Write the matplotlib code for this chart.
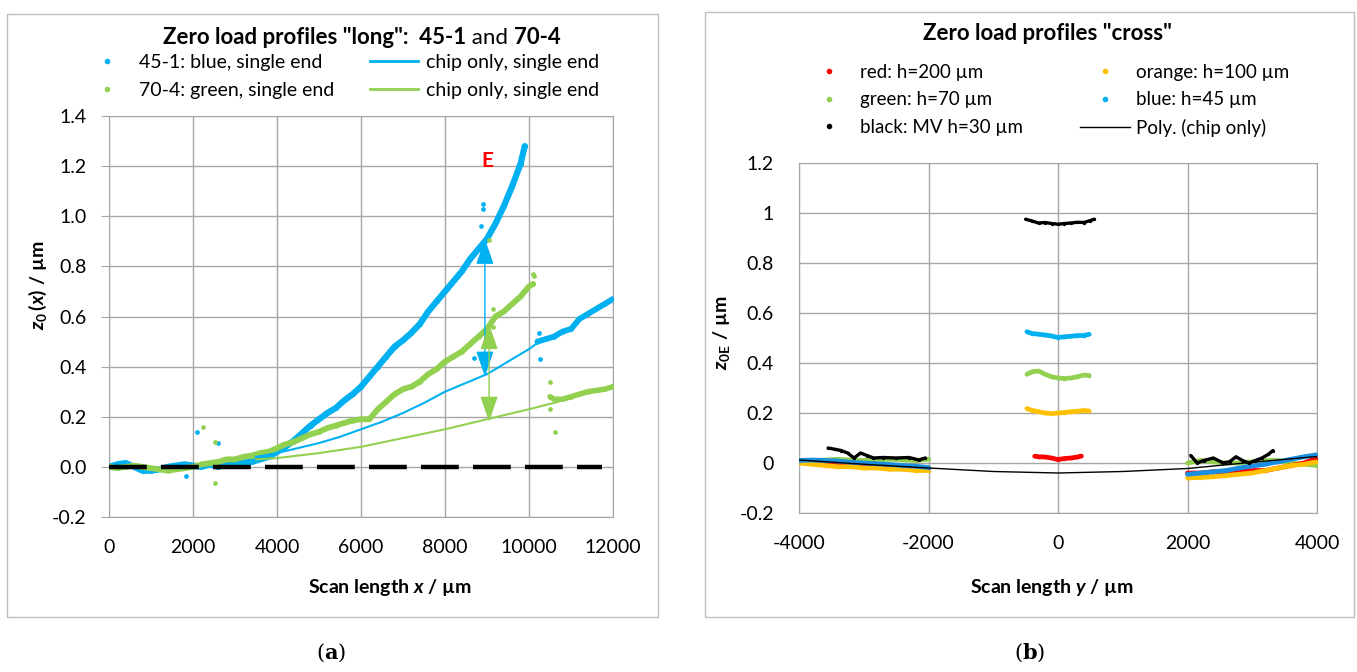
import matplotlib
matplotlib.use('Agg')
from matplotlib import pyplot as plt
from matplotlib.lines import Line2D
from matplotlib.patches import Rectangle

plt.rcParams['font.family'] = ['Lato', 'DejaVu Sans']
plt.rcParams['axes.unicode_minus'] = False
plt.rcParams['mathtext.fontset'] = 'custom'
plt.rcParams['mathtext.rm'] = 'Lato'
plt.rcParams['mathtext.it'] = 'Lato:italic'
plt.rcParams['mathtext.bf'] = 'Lato:bold'
plt.rcParams['mathtext.bfit'] = 'Lato:bold:italic'

BLUE = '#00B0F0'
GREEN = '#92D050'
RED = '#FF0000'
ORANGE = '#FFC000'
GRID = '#a6a6a6'

# ---------- (a) long profiles ----------
x_long = [0, 200, 400, 600, 800, 1000, 1200, 1400, 1600, 1800, 2000, 2200, 2400,
          2600, 2800, 3000, 3200, 3400, 3600, 3800, 4000, 4200, 4400, 4600, 4800,
          5000, 5200, 5400, 5600, 5800, 6000, 6200, 6400, 6600, 6800, 7000, 7200,
          7400, 7600, 7800, 8000, 8200, 8400, 8600, 8800, 9000, 9200, 9400, 9600,
          9800, 9900]
blue_45 = [0.0, 0.01, 0.015, 0.0, -0.015, -0.015, -0.01, 0.0, 0.005, 0.01, 0.005,
           0.0, 0.01, 0.0, 0.015, 0.01, 0.02, 0.02, 0.03, 0.04, 0.06, 0.08, 0.105,
           0.135, 0.165, 0.19, 0.215, 0.235, 0.265, 0.29, 0.32, 0.36, 0.40, 0.44,
           0.48, 0.505, 0.535, 0.57, 0.62, 0.66, 0.70, 0.74, 0.78, 0.83, 0.87, 0.91,
           0.97, 1.04, 1.12, 1.21, 1.28]
x_green = [0, 200, 400, 600, 800, 1000, 1200, 1400, 1600, 1800, 2000, 2200, 2400,
           2600, 2800, 3000, 3200, 3400, 3600, 3800, 4000, 4200, 4400, 4600, 4800,
           5000, 5200, 5400, 5600, 5800, 6000, 6200, 6400, 6600, 6800, 7000, 7200,
           7400, 7600, 7800, 8000, 8200, 8400, 8600, 8800, 9000, 9200, 9400, 9600,
           9800, 10000, 10100]
green_70 = [0.0, -0.005, 0.0, 0.005, 0.0, -0.005, -0.01, -0.015, -0.01, -0.005, 0.0,
            0.01, 0.015, 0.02, 0.03, 0.03, 0.04, 0.045, 0.055, 0.06, 0.075, 0.09,
            0.10, 0.115, 0.13, 0.14, 0.155, 0.165, 0.175, 0.185, 0.19, 0.19, 0.23,
            0.26, 0.29, 0.31, 0.32, 0.34, 0.37, 0.39, 0.42, 0.44, 0.46, 0.49, 0.52,
            0.55, 0.60, 0.62, 0.65, 0.68, 0.72, 0.73]
x_blue_end = [10200, 10400, 10600, 10800, 11000, 11200, 11400, 11600, 11800, 12000]
blue_45_end = [0.50, 0.51, 0.52, 0.54, 0.55, 0.59, 0.61, 0.63, 0.65, 0.67]
x_green_end = [10500, 10600, 10800, 11000, 11200, 11400, 11600, 11800, 12000]
green_70_end = [0.28, 0.27, 0.27, 0.28, 0.29, 0.30, 0.305, 0.31, 0.32]
x_blue_out = [1840, 2090, 2600, 8700, 8860, 8900, 8900, 10250, 10270]
blue_out = [-0.035, 0.14, 0.094, 0.435, 0.96, 1.03, 1.05, 0.535, 0.43]
x_green_out = [2240, 2520, 2520, 9050, 9140, 9140, 10100, 10120, 10490, 10510, 10620]
green_out = [0.158, 0.098, -0.065, 0.905, 0.63, 0.56, 0.77, 0.76, 0.23, 0.34, 0.14]

x_chip_blue = [3500, 4000, 4500, 5000, 5500, 6000, 6500, 7000, 7500, 8000, 8500,
               9000, 9500, 10000, 10250]
chip_blue = [0.04, 0.055, 0.075, 0.095, 0.12, 0.15, 0.18, 0.215, 0.255, 0.30,
             0.335, 0.37, 0.42, 0.47, 0.50]
x_chip_green = [3500, 4000, 5000, 6000, 7000, 8000, 9000, 10000, 10700]
chip_green = [0.03, 0.035, 0.055, 0.08, 0.115, 0.15, 0.19, 0.23, 0.26]

x_zero = [0, 11740]
y_zero = [0, 0]
arrow_blue = (8950, 0.36, 0.91)
arrow_green = (9050, 0.18, 0.57)

# ---------- (b) cross profiles ----------
y_left = [-4000, -3800, -3600, -3400, -3200, -3000, -2800, -2600, -2400, -2200, -2000]
y_right = [2000, 2200, 2400, 2600, 2800, 3000, 3200, 3400, 3600, 3800, 4000]
y_mid = [-480, -400, -300, -200, -100, 0, 100, 200, 300, 400, 480]

red_left = [0.005, 0.0, -0.005, -0.01, -0.01, -0.01, -0.012, -0.015, -0.015, -0.018, -0.02]
red_mid_y = [-360, -300, -200, -100, 0, 100, 200, 300, 360]
red_mid = [0.027, 0.025, 0.024, 0.02, 0.014, 0.018, 0.02, 0.024, 0.028]
red_right = [-0.04, -0.04, -0.035, -0.035, -0.03, -0.03, -0.03, -0.02, -0.01, 0.0, 0.02]

orange_left = [0.0, -0.005, -0.01, -0.015, -0.015, -0.02, -0.02, -0.025, -0.025, -0.03, -0.03]
orange_mid = [0.218, 0.21, 0.205, 0.2, 0.198, 0.2, 0.202, 0.205, 0.207, 0.21, 0.208]
orange_right = [-0.06, -0.058, -0.055, -0.05, -0.045, -0.04, -0.03, -0.02, -0.01, -0.005, 0.005]

green_left = [0.01, 0.01, 0.012, 0.015, 0.012, 0.01, 0.012, 0.015, 0.012, 0.01, 0.015]
green_mid = [0.355, 0.365, 0.368, 0.355, 0.345, 0.34, 0.338, 0.34, 0.345, 0.352, 0.35]
green_right = [0.0, 0.01, 0.005, 0.0, 0.0, 0.005, 0.01, 0.01, 0.0, -0.005, -0.01]

blue_left = [0.01, 0.012, 0.01, 0.008, 0.003, 0.0, -0.003, -0.006, -0.01, -0.013, -0.018]
blue_mid = [0.525, 0.518, 0.515, 0.512, 0.508, 0.502, 0.505, 0.507, 0.51, 0.51, 0.515]
blue_right = [-0.045, -0.04, -0.035, -0.03, -0.02, -0.012, -0.005, 0.005, 0.015, 0.025, 0.033]

black_left_y = [-3550, -3450, -3350, -3250, -3150, -3050, -2950, -2850, -2700, -2500,
                -2300, -2150, -2050]
black_left = [0.06, 0.055, 0.05, 0.04, 0.02, 0.04, 0.03, 0.02, 0.022, 0.02, 0.022,
              0.012, 0.02]
black_mid_y = [-500, -400, -300, -200, -100, 0, 100, 200, 300, 400, 500, 560]
black_mid = [0.975, 0.968, 0.96, 0.962, 0.958, 0.955, 0.958, 0.96, 0.963, 0.962,
             0.97, 0.975]
black_right_y = [2050, 2150, 2250, 2400, 2550, 2650, 2750, 2850, 2950, 3050, 3150,
                 3250, 3320]
black_right = [0.03, 0.0, 0.01, 0.02, 0.0, 0.005, 0.025, 0.01, 0.0, 0.01, 0.02,
               0.035, 0.05]

poly_y = [-4000, -3000, -2000, -1000, 0, 1000, 2000, 3000, 4000]
poly_z = [0.012, -0.005, -0.02, -0.034, -0.04, -0.034, -0.022, 0.003, 0.026]

W, H = 1357, 672
fig = plt.figure(figsize=(W / 100, H / 100), dpi=100)


def fx(px):
    return px / W


def fy(py):
    return 1 - py / H


# panel frames
for x0, y0, x1, y1 in [(7, 14, 658, 617), (705, 12, 1354, 617)]:
    fig.patches.append(Rectangle((fx(x0), fy(y1)), fx(x1 - x0), (y1 - y0) / H,
                                 transform=fig.transFigure, fill=False,
                                 edgecolor='#bfbfbf', lw=1))

ax1 = fig.add_axes([fx(109), fy(517), fx(504), 401 / H])
ax2 = fig.add_axes([fx(799), fy(513), fx(518), 350 / H])


def scatter_band(ax, x, y, color, lw=3.5, ms=2.6, z=3):
    ax.plot(x, y, '-', color=color, lw=lw, solid_capstyle='round', zorder=z)
    ax.plot(x, y, 'o', color=color, ms=ms, mew=0, zorder=z)


# --- panel a
ax1.plot(x_zero, y_zero, color='black', lw=3.2, dashes=(8.5, 3.2), zorder=3.5)
scatter_band(ax1, x_long, blue_45, BLUE, lw=4.5, ms=3.5)
scatter_band(ax1, x_blue_end, blue_45_end, BLUE, lw=4.2, ms=3.2)
scatter_band(ax1, x_green, green_70, GREEN, lw=4.2, ms=3.2)
scatter_band(ax1, x_green_end, green_70_end, GREEN, lw=4.0, ms=3.2)
ax1.plot(x_blue_out, blue_out, 'o', color=BLUE, ms=3.4, mew=0, zorder=3)
ax1.plot(x_green_out, green_out, 'o', color=GREEN, ms=3.4, mew=0, zorder=3)
ax1.plot(x_chip_blue, chip_blue, color=BLUE, lw=1.5, zorder=4)
ax1.plot(x_chip_green, chip_green, color=GREEN, lw=1.5, zorder=4)

for (ax_x, lo, hi), c in [(arrow_blue, BLUE), (arrow_green, GREEN)]:
    ax1.annotate('', xy=(ax_x, hi), xytext=(ax_x, lo),
                 arrowprops=dict(arrowstyle='<|-|>,head_length=1.6,head_width=0.55',
                                 color=c, lw=1, mutation_scale=10,
                                 shrinkA=0, shrinkB=0), zorder=5)
ax1.text(9000, 1.22, 'E', color=RED, fontsize=15, fontweight='bold',
         ha='center', va='center')

ax1.set_xlim(0, 12000)
ax1.set_ylim(-0.2, 1.4)
ax1.set_xticks(range(0, 12001, 2000))
ax1.set_yticks([-0.2, 0.0, 0.2, 0.4, 0.6, 0.8, 1.0, 1.2, 1.4])
ax1.set_yticklabels(['-0.2', '0.0', '0.2', '0.4', '0.6', '0.8', '1.0', '1.2', '1.4'])
ax1.tick_params(axis='y', length=6, color=GRID, pad=10, labelsize=14)
ax1.tick_params(axis='x', length=0, pad=16, labelsize=14)

# --- panel b
for yy, zz, c in [(y_left, green_left, GREEN), (y_right, green_right, GREEN),
                  (y_left, red_left, RED), (y_right, red_right, RED),
                  (y_left, orange_left, ORANGE), (y_right, orange_right, ORANGE),
                  (y_left, blue_left, '#1a8ee0'), (y_right, blue_right, '#1a8ee0')]:
    scatter_band(ax2, yy, zz, c, lw=3.4, ms=2.6)
scatter_band(ax2, red_mid_y, red_mid, RED, lw=3.4, ms=2.6)
scatter_band(ax2, y_mid, orange_mid, ORANGE, lw=3.4, ms=2.6)
scatter_band(ax2, y_mid, green_mid, GREEN, lw=3.4, ms=2.6)
scatter_band(ax2, y_mid, blue_mid, BLUE, lw=3.4, ms=2.6)
for yy, zz in [(black_left_y, black_left), (black_mid_y, black_mid),
               (black_right_y, black_right)]:
    scatter_band(ax2, yy, zz, 'black', lw=2.4, ms=2.4, z=4)
ax2.plot(poly_y, poly_z, color='black', lw=1, zorder=5)

ax2.set_xlim(-4000, 4000)
ax2.set_ylim(-0.2, 1.2)
ax2.set_xticks([-4000, -2000, 0, 2000, 4000])
ax2.set_yticks([-0.2, 0, 0.2, 0.4, 0.6, 0.8, 1.0, 1.2])
ax2.set_yticklabels(['-0.2', '0', '0.2', '0.4', '0.6', '0.8', '1', '1.2'])
ax2.tick_params(axis='y', length=0, pad=18, labelsize=14)
ax2.tick_params(axis='x', length=0, pad=16, labelsize=14)

for ax in (ax1, ax2):
    ax.grid(True, color=GRID, lw=1)
    ax.set_axisbelow(True)
    for s in ax.spines.values():
        s.set_color(GRID)

# axis labels
fig.text(fx(390), fy(587), r'Scan length $\mathbfit{x}$ / µm', fontsize=14,
         fontweight='bold', ha='center', va='center')
fig.text(fx(1052), fy(587), r'Scan length $\mathbfit{y}$ / µm', fontsize=14,
         fontweight='bold', ha='center', va='center')
fig.text(fx(38), fy(285), r'$\mathbfit{z}_\mathbf{0}\,\mathbf{(}\mathbfit{x}\mathbf{)\ /\ µm}$',
         fontsize=14, rotation=90, ha='center', va='center')
fig.text(fx(722), fy(333), r'$\mathbfit{z}_\mathbf{0E}\mathbf{\ /\ µm}$',
         fontsize=14, rotation=90, ha='center', va='center')

# titles
t = fig.text(fx(163), fy(38), 'Zero load profiles "long":  45-1', fontsize=16,
             fontweight='bold', ha='left', va='center')
t2 = plt.annotate(' and ', xy=(1, 0), xycoords=t, va='bottom', ha='left',
                  fontsize=16, annotation_clip=False)
plt.annotate('70-4', xy=(1, 0), xycoords=t2, va='bottom', ha='left',
             fontsize=16, fontweight='bold', annotation_clip=False)
fig.text(fx(1047), fy(33), 'Zero load profiles "cross"', fontsize=16,
         fontweight='bold', ha='center', va='center')


# legends
def dot(c):
    return Line2D([], [], color=c, marker='o', ls='none', ms=3)


def seg(c, lw=2):
    return Line2D([], [], color=c, lw=lw)


fig.legend([dot(BLUE), dot(GREEN), seg(BLUE), seg(GREEN)],
           ['45-1: blue, single end', '70-4: green, single end',
            'chip only, single end', 'chip only, single end'],
           ncol=2, frameon=False, fontsize=14, loc='upper left',
           bbox_to_anchor=(fx(83), fy(54)), borderpad=0, borderaxespad=0,
           handlelength=2.5, handletextpad=0.4, columnspacing=1.8,
           labelspacing=0.55)

fig.legend([dot(RED), dot(GREEN), dot('black'), dot(ORANGE), dot(BLUE),
            seg('black', 1)],
           ['red: h=200 µm', 'green: h=70 µm', 'black: MV h=30 µm',
            'orange: h=100 µm', 'blue: h=45 µm', 'Poly. (chip only)'],
           ncol=2, frameon=False, fontsize=13.5, loc='upper left',
           bbox_to_anchor=(fx(804), fy(64)), borderpad=0, borderaxespad=0,
           handlelength=2.7, handletextpad=0.3, columnspacing=3.0,
           labelspacing=0.55)

# captions
for cx, letter in [(331, 'a'), (1030, 'b')]:
    fig.text(fx(cx), fy(653), r'($\mathbf{%s}$)' % letter, fontsize=15,
             ha='center', va='center', family='DejaVu Serif',
             math_fontfamily='dejavuserif')

fig.savefig('out.png', dpi=100)
